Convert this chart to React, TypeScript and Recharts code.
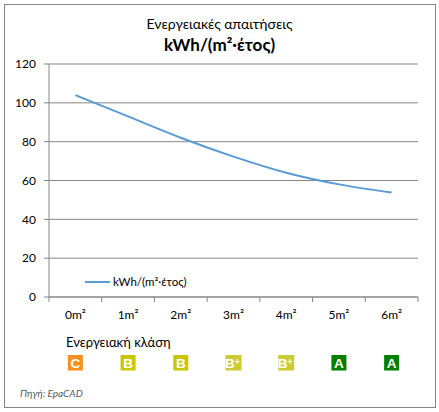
import React from "react";
import { LineChart, Line, XAxis, YAxis, CartesianGrid } from "recharts";

const categories = ["0m²", "1m²", "2m²", "3m²", "4m²", "5m²", "6m²"];
const values = [104, 93, 82, 72.3, 64, 58, 53.8];
const classes = ["C", "B", "B", "B+", "B+", "A", "A"];
const yTicks = [0, 20, 40, 60, 80, 100, 120];

const classColors: Record<string, string> = {
  C: "#F7901E",
  B: "#C9C800",
  "B+": "#CBCB35",
  A: "#007F00",
};

const FONT = "Lato, 'Noto Sans', sans-serif";
const GRAY = "#868686";

const data = categories.map((c, i) => ({ x: i, name: c, v: values[i], cls: classes[i] }));
const xTicks: number[] = [];
for (let i = 0; i <= categories.length; i++) {
  xTicks.push(i - 0.5);
  if (i < categories.length) xTicks.push(i);
}

const XTick = (props: any) => {
  const { x, y, payload } = props;
  const val = payload.value as number;
  if (Math.abs(val - Math.round(val)) > 0.01) {
    return <line x1={x} x2={x} y1={y} y2={y + 5} stroke={GRAY} strokeWidth={1} />;
  }
  const idx = Math.round(val);
  const cls = classes[idx];
  const plus = cls.endsWith("+");
  const w = plus ? 16 : 15;
  return (
    <g>
      <text x={x} y={y + 22} textAnchor="middle" fontSize={12} fill="#000" fontFamily={FONT}>
        {categories[idx]}
      </text>
      <rect x={x - w / 2} y={y + 58} width={w} height={15.5} fill={classColors[cls]} />
      <text
        x={x + (plus ? -1 : 0)}
        y={y + 70.5}
        textAnchor="middle"
        fontSize={13.5}
        fontWeight="bold"
        fill="#fff"
        fontFamily="Arial, 'Liberation Sans', sans-serif"
      >
        {cls.replace("+", "")}
        {plus && (
          <tspan fontSize={9} dy={-3}>
            +
          </tspan>
        )}
      </text>
    </g>
  );
};

export default function App() {
  return (
    <div style={{ position: "absolute", left: 0, top: 0, width: 439, height: 412, background: "#fff", fontFamily: FONT }}>
      <div
        style={{
          position: "absolute",
          left: 4,
          top: 4,
          width: 432,
          height: 404,
          border: `1px solid ${GRAY}`,
          boxSizing: "border-box",
        }}
      />
      <div style={{ position: "absolute", left: 0, width: 439, top: 15, textAlign: "center", fontSize: 14, lineHeight: "18px", color: "#000" }}>
        Ενεργειακές απαιτήσεις
      </div>
      <div style={{ position: "absolute", left: 0, width: 439, top: 34, textAlign: "center", fontSize: 17, fontWeight: "bold", lineHeight: "22px", color: "#000" }}>
        kWh/(m²·έτος)
      </div>
      <div style={{ position: "absolute", left: 66, top: 334, fontSize: 13, lineHeight: "16px", color: "#000" }}>
        Ενεργειακή κλάση
      </div>
      <div style={{ position: "absolute", left: 20, top: 386, fontSize: 10, fontStyle: "italic", lineHeight: "14px", color: "#595959" }}>
        Πηγή: EpaCAD
      </div>
      <div style={{ position: "absolute", left: 85, top: 274, display: "flex", alignItems: "center", fontSize: 11.5, lineHeight: "16px" }}>
        <div style={{ width: 25, height: 2, background: "#5B9BD5", marginRight: 3 }} />
        <span>kWh/(m²·έτος)</span>
      </div>
      <div style={{ position: "absolute", left: 0, top: 0 }}>
        <LineChart width={439} height={412} data={data} margin={{ top: 64, right: 21, bottom: 0, left: 0 }}>
          <CartesianGrid vertical={false} stroke={GRAY} strokeWidth={1} />
          <XAxis
            dataKey="x"
            type="number"
            domain={[-0.5, 6.5]}
            ticks={xTicks}
            interval={0}
            height={115}
            tickLine={false}
            tickSize={0}
            tickMargin={0}
            axisLine={{ stroke: GRAY }}
            tick={<XTick />}
          />
          <YAxis
            domain={[0, 120]}
            ticks={yTicks}
            width={49}
            tickSize={5}
            tickMargin={8}
            tickLine={{ stroke: GRAY }}
            axisLine={{ stroke: GRAY }}
            tick={{ fontSize: 12, fill: "#000", fontFamily: FONT }}
          />
          <Line
            dataKey="v"
            type="monotone"
            stroke="#5B9BD5"
            strokeWidth={2}
            dot={false}
            isAnimationActive={false}
          />
        </LineChart>
      </div>
    </div>
  );
}
